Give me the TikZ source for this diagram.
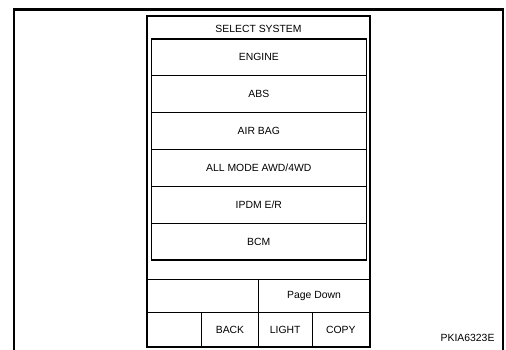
\documentclass[tikz,border=0pt]{standalone}
\usepackage{fontspec}
\setmainfont{Liberation Sans}
\begin{document}
\begin{tikzpicture}[x=1pt,y=-1pt,
  font=\fontsize{10.4}{12}\selectfont,
  frameline/.style={line width=2.4pt, line cap=rect},
  panelbox/.style={draw=black, line width=1.3pt, inner sep=0pt},
  rowbox/.style={draw=black, line width=1.1pt, inner sep=0pt,
    minimum width=215pt, minimum height=36.83pt},
  cellbox/.style={draw=black, line width=1.0pt, inner sep=0pt}]
\useasboundingbox (0,0) rectangle (506,350);
% outer frame
\coordinate (fbl) at (14,351);
\coordinate (ftl) at (14,9.5);
\coordinate (ftr) at (503,9.5);
\coordinate (fbr) at (503,351);
\draw[frameline] (fbl) -- (ftl) -- (ftr) -- (fbr);
% panel
\node[panelbox, minimum width=222.4pt, minimum height=330.7pt] (panel) at (258.5,181.35) {};
\node (title) at (258.5,28.5) {SELECT SYSTEM};
% list rows
\node[rowbox] (engine) at (258.8,57.42) {ENGINE};
\node[rowbox] (abs) at (258.8,94.25) {ABS};
\node[rowbox] (airbag) at (258.8,131.08) {AIR BAG};
\node[rowbox] (awd) at (258.8,167.92) {ALL MODE AWD/4WD};
\node[rowbox] (ipdm) at (258.8,204.75) {IPDM E/R};
\node[rowbox] (bcm) at (258.8,241.58) {BCM};
% bottom buttons
\node[cellbox, minimum width=111pt, minimum height=33.7pt] (blanka) at (202.8,295.85) {};
\node[cellbox, minimum width=111.4pt, minimum height=33.7pt] (pagedown) at (314,295.85) {Page Down};
\node[cellbox, minimum width=54.4pt, minimum height=34pt] (blankb) at (174.5,329.7) {};
\node[cellbox, minimum width=56.6pt, minimum height=34pt] (back) at (230,329.7) {BACK};
\node[cellbox, minimum width=53.7pt, minimum height=34pt] (light) at (285.15,329.7) {LIGHT};
\node[cellbox, minimum width=57.7pt, minimum height=34pt] (copy) at (340.85,329.7) {COPY};
\draw[panelbox] (panel.north west) rectangle (panel.south east);
% code
\node[anchor=east] (code) at (498,338) {PKIA6323E};
\end{tikzpicture}
\end{document}
